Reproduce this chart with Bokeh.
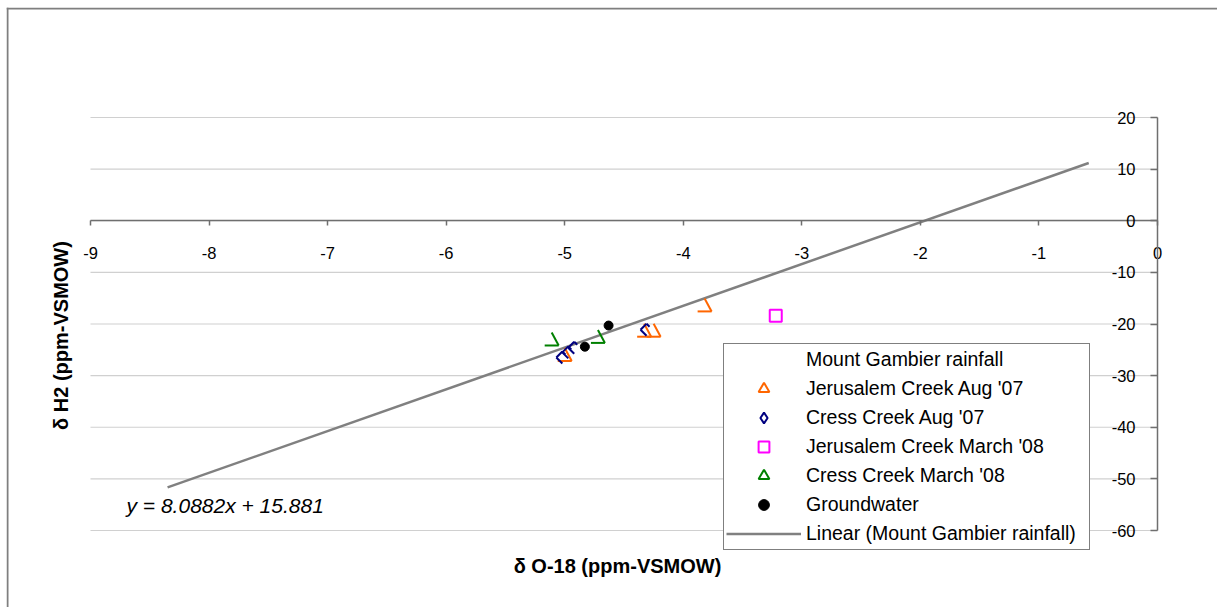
import math
from bokeh.plotting import figure
from bokeh.models import ColumnDataSource, Legend, LegendItem, Label, FixedTicker, Range1d, Span
from bokeh.transform import dodge
from bokeh.embed import file_html
from bokeh.resources import INLINE

# ---------------- data ----------------
x_ticks = [-9, -8, -7, -6, -5, -4, -3, -2, -1, 0]
x_tick_labels = ["-9", "-8", "-7", "-6", "-5", "-4", "-3", "-2", "-1", "0"]
y_ticks = [-60, -50, -40, -30, -20, -10, 0, 10, 20]
y_tick_labels = ["-60", "-50", "-40", "-30", "-20", "-10", "0", "10", "20"]

jer_aug07_x = [-3.82, -4.33, -4.25, -5.00]
jer_aug07_y = [-16.4, -21.3, -21.3, -26.0]
cress_aug07_x = [-4.31, -5.02, -4.97, -4.92]
cress_aug07_y = [-21.1, -26.5, -25.5, -24.6]
jer_mar08_x = [-3.22]
jer_mar08_y = [-18.4]
cress_mar08_x = [-5.11, -4.72]
cress_mar08_y = [-23.0, -22.5]
gw_x = [-4.63, -4.83]
gw_y = [-20.3, -24.4]
trend_x = [-8.35, -0.58]
slope, intercept = 8.0882, 15.881
equation = "y = 8.0882x + 15.881"

# ---------------- layout / styles ----------------
ORANGE = "#FF6600"
NAVY = "#000080"
MAGENTA = "#FF00FF"
GREEN = "#008000"
FONT = "Liberation Sans"
AXIS_COLOR = "#6f6f6f"

OX, OY = 6, 7            # canvas origin on the page
W, H = 1211, 600
# chart area inside the canvas (pixels)
AREA_L, AREA_R, AREA_T, AREA_B = 90 - OX, 1157 - OX, 117 - OY, 530 - OY
X_MIN, X_MAX, Y_MIN, Y_MAX = -9, 0, -60, 20
PX_X = (AREA_R - AREA_L) / (X_MAX - X_MIN)
PX_Y = (AREA_B - AREA_T) / (Y_MAX - Y_MIN)

x_range = Range1d(X_MIN - AREA_L / PX_X, X_MAX + (W - AREA_R) / PX_X)
y_range = Range1d(Y_MIN - (H - AREA_B) / PX_Y, Y_MAX + AREA_T / PX_Y)


def sx(page_x):
    return page_x - OX


def sy(page_y):
    return H - (page_y - OY)


p = figure(width=W, height=H, x_range=x_range, y_range=y_range,
           output_backend="svg", toolbar_location=None,
           min_border_left=0, min_border_right=0, min_border_top=0, min_border_bottom=0,
           styles={"margin-left": f"{OX}px", "margin-top": f"{OY}px"})
p.outline_line_color = None
p.background_fill_color = "white"
p.border_fill_color = "white"
p.xgrid.visible = False
p.ygrid.visible = False

# outer chart border (top and left edges)
p.add_layout(Span(location=1, dimension="height", location_units="screen",
                  line_color="#7f7f7f", line_width=2))
p.add_layout(Span(location=H - 1, dimension="width", location_units="screen",
                  line_color="#7f7f7f", line_width=2))

# axes crossing at the origin
for ax in p.xaxis:
    ax.fixed_location = 0
    ax.bounds = (X_MIN, X_MAX)
    ax.ticker = FixedTicker(ticks=x_ticks)
    ax.major_label_overrides = dict(zip(x_ticks, x_tick_labels))
    ax.major_tick_out = 5
    ax.major_tick_in = 0
    ax.minor_tick_out = 0
    ax.minor_tick_in = 0
    ax.axis_line_color = AXIS_COLOR
    ax.axis_line_width = 1.5
    ax.major_tick_line_color = AXIS_COLOR
    ax.major_tick_line_width = 1.5
    ax.major_label_standoff = 21
    ax.major_label_text_font = FONT
    ax.major_label_text_font_size = "16.5px"
    ax.major_label_text_color = "black"
for ax in p.yaxis:
    ax.fixed_location = 0
    ax.bounds = (Y_MIN, Y_MAX)
    ax.ticker = FixedTicker(ticks=y_ticks)
    ax.major_label_overrides = dict(zip(y_ticks, y_tick_labels))
    ax.major_tick_out = 7
    ax.major_tick_in = 0
    ax.minor_tick_out = 0
    ax.minor_tick_in = 0
    ax.axis_line_color = AXIS_COLOR
    ax.axis_line_width = 1.5
    ax.major_tick_line_color = AXIS_COLOR
    ax.major_tick_line_width = 1.5
    ax.major_label_standoff = 15
    ax.major_label_text_font = FONT
    ax.major_label_text_font_size = "16.5px"
    ax.major_label_text_color = "black"

# horizontal gridlines limited to the chart area
grid_src = ColumnDataSource(dict(y=y_ticks, x0=[X_MIN] * len(y_ticks), x1=[X_MAX] * len(y_ticks)))
p.segment(x0="x0", x1="x1", y0="y", y1="y", source=grid_src, line_color="#d0d0d0", line_width=1.2,
          level="underlay")

# ---------------- series ----------------
src_rain = ColumnDataSource(dict(x=[], y=[]))
rain_r = p.scatter("x", "y", source=src_rain, size=8, fill_alpha=0, line_alpha=0)

trend_y = [slope * v + intercept for v in trend_x]
src_trend = ColumnDataSource(dict(x=trend_x, y=trend_y))
trend_r = p.line("x", "y", source=src_trend, line_color="#808080", line_width=2.5)

src_jer = ColumnDataSource(dict(x=jer_aug07_x, y=jer_aug07_y))
src_cress = ColumnDataSource(dict(x=cress_aug07_x, y=cress_aug07_y))
src_jer08 = ColumnDataSource(dict(x=jer_mar08_x, y=jer_mar08_y))
src_cress08 = ColumnDataSource(dict(x=cress_mar08_x, y=cress_mar08_y))
src_gw = ColumnDataSource(dict(x=gw_x, y=gw_y))


def edge(src, color, a, b):
    # one stroke of a marker, a/b are pixel offsets (right, down) from the point
    p.segment(x0=dodge("x", a[0] / PX_X), y0=dodge("y", -a[1] / PX_Y),
              x1=dodge("x", b[0] / PX_X), y1=dodge("y", -b[1] / PX_Y),
              source=src, line_color=color, line_width=2)


def open_triangle(src, color):
    # triangle outline with its left edge missing
    edge(src, color, (-7, 6), (7, 6))
    edge(src, color, (7, 6), (0, -7))
    # legend glyph (zero size on the plot itself)
    return p.scatter("x", "y", source=src, marker="triangle", size=0, fill_color=None,
                     line_color=color, line_width=2)


def open_diamond(src, color):
    edge(src, color, (-6, 0), (0, -6))
    edge(src, color, (-6, 0), (0, 6))
    edge(src, color, (0, -6), (3, -3))
    return p.scatter("x", "y", source=src, marker="diamond", size=0, fill_color=None,
                     line_color=color, line_width=2)


leg_jer = open_triangle(src_jer, ORANGE)
leg_cress = open_diamond(src_cress, NAVY)
jer08_r = p.scatter("x", "y", source=src_jer08, marker="square", size=12, fill_color=None,
                    line_color=MAGENTA, line_width=2)
leg_cress08 = open_triangle(src_cress08, GREEN)
gw_r = p.scatter("x", "y", source=src_gw, marker="circle", size=9, fill_color="black",
                 line_color="black")

legend = Legend(items=[
    LegendItem(label="Mount Gambier rainfall", renderers=[rain_r]),
    LegendItem(label="Jerusalem Creek Aug '07", renderers=[leg_jer]),
    LegendItem(label="Cress Creek Aug '07", renderers=[leg_cress]),
    LegendItem(label="Jerusalem Creek March '08", renderers=[jer08_r]),
    LegendItem(label="Cress Creek March '08", renderers=[leg_cress08]),
    LegendItem(label="Groundwater", renderers=[gw_r]),
    LegendItem(label="Linear (Mount Gambier rainfall)", renderers=[trend_r]),
], location=(sx(723), sy(550)))
legend.label_text_font = FONT
legend.label_text_font_size = "19.5px"
legend.label_text_color = "black"
legend.border_line_color = "black"
legend.border_line_width = 1
legend.background_fill_color = "white"
legend.background_fill_alpha = 1
legend.glyph_width = 75
legend.glyph_height = 27
legend.label_height = 20
legend.label_width = 281
legend.spacing = 2
legend.padding = 2
legend.margin = 0
legend.label_standoff = 5
p.add_layout(legend)

# ---------------- text ----------------
p.add_layout(Label(x=sx(617), y=sy(565), x_units="screen", y_units="screen",
                   text="δ O-18 (ppm-VSMOW)", text_font=FONT, text_font_style="bold",
                   text_font_size="20px", text_align="center", text_baseline="middle",
                   text_color="black"))
p.add_layout(Label(x=sx(60), y=sy(335), x_units="screen", y_units="screen", angle=math.pi / 2,
                   text="δ H2 (ppm-VSMOW)", text_font=FONT, text_font_style="bold",
                   text_font_size="20px", text_align="center", text_baseline="middle",
                   text_color="black"))
p.add_layout(Label(x=sx(126), y=sy(505), x_units="screen", y_units="screen",
                   text=equation, text_font=FONT, text_font_style="italic",
                   text_font_size="21px", text_align="left", text_baseline="middle",
                   text_color="black"))

open("out.html", "w").write(file_html(p, INLINE))
